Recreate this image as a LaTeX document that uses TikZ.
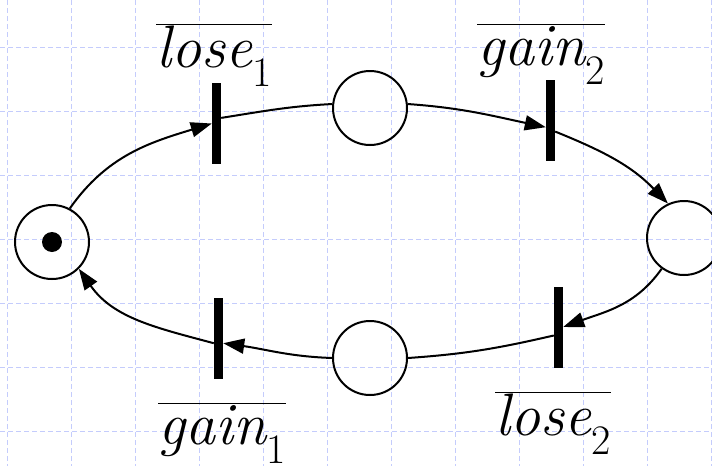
\documentclass[tikz,border=0pt]{standalone}
\usepackage{fontspec}
\usetikzlibrary{arrows.meta}

\definecolor{gridblue}{RGB}{196,204,252}
\newcommand{\barlbl}[2]{$\overline{\hbox{\itshape #1\textsubscript{\upshape #2}}}$}

\begin{document}
\begin{tikzpicture}[x=1pt,y=1pt,
    pl/.style={circle,draw,line width=2pt,minimum size=74pt,inner sep=0pt},
    tr/.style={rectangle,fill=black,minimum width=9pt,minimum height=81pt,inner sep=0pt},
    tok/.style={circle,fill=black,minimum size=20pt,inner sep=0pt},
    lbl/.style={anchor=base,inner sep=0pt,font=\fontsize{60}{68}\selectfont},
    gridln/.style={gridblue,line width=1pt,dash pattern=on 5pt off 3pt},
    ln/.style={line width=2pt},
    arr/.style={-{Triangle[length=21pt,width=15pt]},line width=2pt}
]
\clip (0,0) rectangle (712,-466);
\fill[white] (0,0) rectangle (712,-466);
% grid
\foreach \x in {7,71,...,711}
  \draw[gridln] (\x,0) -- (\x,-466);
\foreach \y in {47,111,...,431}
  \draw[gridln] (0,-\y) -- (712,-\y);

% places
\node[pl] (p0) at (52,-242) {};
\node[tok] (k0) at (52,-242) {};
\node[pl] (p1) at (370,-108) {};
\node[pl] (p2) at (684,-238) {};
\node[pl] (p3) at (370,-358) {};

% transitions
\node[tr] (t1) at (216.5,-123.5) {};
\node[tr] (t2) at (550.5,-120.5) {};
\node[tr] (t3) at (558.5,-327) {};
\node[tr] (t4) at (218.5,-338) {};

% labels
\node[lbl] (l1) at (214,-67) {\barlbl{lose}{1}};
\node[lbl] (l2) at (541,-65) {\barlbl{gain}{2}};
\node[lbl] (l3) at (553,-435) {\barlbl{lose}{2}};
\node[lbl] (l4) at (222,-444) {\barlbl{gain}{1}};

% arcs
\draw[arr] (p0.62) to[out=55,in=197] (t1.west);
\draw[ln] (t1.50) to[out=9,in=183] (p1.174);
\draw[arr] (p1.6) to[out=-4,in=168] (t2.235);
\draw[arr] (t2.-67) to[out=-22,in=134] (p2.115);
\draw[arr] (p2.234) to[out=-125,in=20] (t3.east);
\draw[ln] (t3.241) to[out=193,in=4] (p3.east);
\draw[arr] (p3.west) to[out=178,in=-8] (t4.-48);
\draw[arr] (t4.228) to[out=165,in=-55] (p0.-45);
\end{tikzpicture}
\end{document}
